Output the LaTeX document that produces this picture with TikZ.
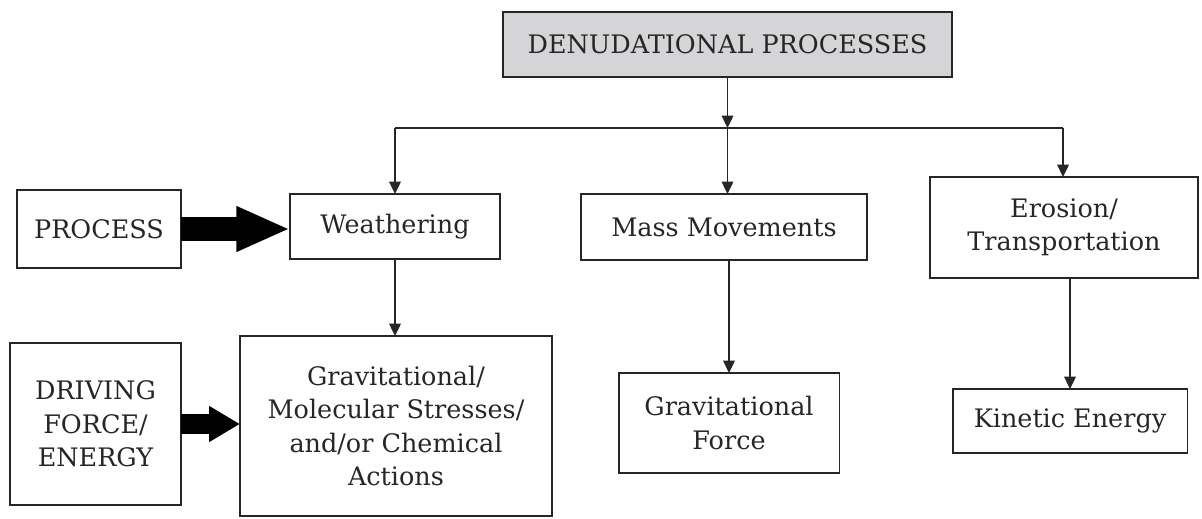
\documentclass[tikz,border=0pt]{standalone}
\usepackage{fontspec}
\setmainfont{DejaVu Serif}
\usetikzlibrary{arrows.meta,calc}
\definecolor{ink}{HTML}{262626}
\definecolor{topfill}{HTML}{D5D5D7}
\tikzset{
  box/.style={draw=ink, line width=1.1pt, inner sep=0pt, outer sep=0pt, align=center,
    text=ink, font=\fontsize{14.5}{19}\selectfont},
  arr/.style={draw=ink, line width=1.1pt, -{Triangle[length=7pt,width=6.5pt]}},
  bigarr/.style={draw=black, line width=13.6pt, -{Triangle[length=30.6pt,width=23.8pt]}},
  midarr/.style={draw=black, line width=11.3pt, -{Triangle[length=17.6pt,width=19.3pt]}},
  bus/.style={draw=ink, line width=1.1pt}
}
\begin{document}
\begin{tikzpicture}[x=0.02cm,y=-0.02cm]
\useasboundingbox (0,0) rectangle (1202,518);
\node[box, fill=topfill, minimum width=8.98cm, minimum height=1.3cm] (den) at (727.5,44.5) {DENUDATIONAL PROCESSES};
\node[box, minimum width=4.2cm, minimum height=1.3cm] (weath) at (395,226.5) {Weathering};
\node[box, minimum width=5.72cm, minimum height=1.32cm] (mass) at (724,227) {Mass Movements};
\node[box, minimum width=5.36cm, minimum height=2.02cm] (eros) at (1064,227.5) {Erosion/\\Transportation};
\node[box, minimum width=3.28cm, minimum height=1.56cm] (proc) at (99,229) {PROCESS};
\node[box, minimum width=3.42cm, minimum height=3.24cm] (drive) at (95.5,424) {DRIVING\\FORCE/\\ENERGY};
\node[box, minimum width=6.24cm, minimum height=3.6cm] (grav) at (396,426) {Gravitational/\\Molecular Stresses/\\and/or Chemical\\Actions};
\node[box, minimum width=4.42cm, minimum height=2.0cm] (gforce) at (729,423) {Gravitational\\Force};
\node[box, minimum width=4.7cm, minimum height=1.28cm] (kin) at (1070,421) {Kinetic Energy};
\coordinate (busL) at (395,128);
\coordinate (busR) at (1063,128);
\coordinate (busM) at (den.south |- busL);
\draw[bus] (busL) -- (busR);
\draw[arr] (den.south) -- (busM);
\draw[arr] (busL) -- (weath.north);
\draw[arr] (busM) -- (busM |- mass.north);
\draw[arr] (busR) -- (busR |- eros.north);
\draw[arr] (weath.south) -- (weath.south |- grav.north);
\draw[arr] (gforce.north |- mass.south) -- (gforce.north);
\draw[arr] (kin.north |- eros.south) -- (kin.north);
\draw[bigarr] (proc.east) -- (proc.east -| weath.west);
\draw[midarr] (drive.east) -- (drive.east -| grav.west);
\end{tikzpicture}
\end{document}
